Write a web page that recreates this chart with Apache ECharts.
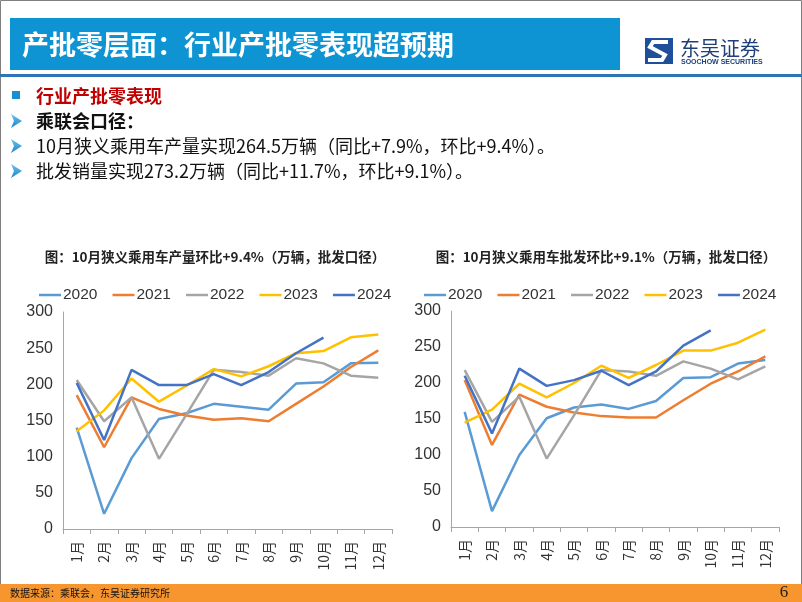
<!DOCTYPE html>
<html>
<head>
<meta charset="utf-8">
<script src="https://cdn.jsdelivr.net/npm/echarts@6/dist/echarts.min.js"></script>
<style>
html,body{margin:0;padding:0;background:#fff;}
#c{width:802px;height:602px;}
</style>
</head>
<body>
<div id="c"></div>
<script>
// ---- data ----
const months = ['1月','2月','3月','4月','5月','6月','7月','8月','9月','10月','11月','12月'];
const years = ['2020','2021','2022','2023','2024'];
const yTicks = [0,50,100,150,200,250,300];
// production (万辆)
const prod2020 = [140,21,98,152,160,173,169,165,201,203,229,230];
const prod2021 = [185,113,182,166,157,151,153,149,173,197,224,247];
const prod2022 = [206,149,182,97,158,220,217,212,236,229,212,209];
const prod2023 = [135,164,208,176,198,221,211,225,243,246,265,269];
const prod2024 = [202,123,220,199,199,214,199,217,243,264.5];
// wholesale (万辆)
const whs2020 = [160,22,100,151,166,170,164,175,207,208,227,232];
const whs2021 = [204,114,184,167,159,154,152,152,176,199,216,237];
const whs2022 = [218,146,181,95,155,218,216,210,230,220,205,223];
const whs2023 = [145,163,199,180,200,224,207,225,245,245,256,274];
const whs2024 = [210,130,220,196,204,217,197,216,252,273.2];

const prodSeries = [prod2020,prod2021,prod2022,prod2023,prod2024];
const whsSeries = [whs2020,whs2021,whs2022,whs2023,whs2024];
const colors = ['#5b9bd5','#ed7d31','#a5a5a5','#ffc000','#4472c4'];

const CJK = '"Microsoft YaHei","Noto Sans CJK SC",sans-serif';
const LAT = '"Liberation Sans",Arial,sans-serif';

const chart = echarts.init(document.getElementById('c'), null, {renderer:'canvas'});

function xAxisCfg(gi){
  return {
    type:'category', gridIndex:gi, data:months, boundaryGap:true,
    axisLine:{lineStyle:{color:'#a6a6a6',width:1}},
    axisTick:{show:true,length:5,lineStyle:{color:'#a6a6a6'}},
    axisLabel:{rotate:90,margin:12,fontSize:14,color:'#333',fontFamily:CJK,interval:0}
  };
}
function yAxisCfg(gi){
  return {
    type:'value', gridIndex:gi, min:yTicks[0], max:yTicks[yTicks.length-1], interval:50,
    axisLine:{show:true,lineStyle:{color:'#a6a6a6',width:1}},
    axisTick:{show:false},
    splitLine:{show:false},
    axisLabel:{fontSize:16,color:'#333',fontFamily:LAT,margin:10}
  };
}
const series = [];
years.forEach((y,i)=>{
  series.push({name:y,type:'line',xAxisIndex:0,yAxisIndex:0,data:prodSeries[i],
    symbol:'none',lineStyle:{width:2.5,color:colors[i]},itemStyle:{color:colors[i]},silent:true});
});
years.forEach((y,i)=>{
  series.push({name:y,type:'line',xAxisIndex:1,yAxisIndex:1,data:whsSeries[i],
    symbol:'none',lineStyle:{width:2.5,color:colors[i]},itemStyle:{color:colors[i]},silent:true});
});

function legendCfg(left){
  return {
    left:left, top:282, data:years, icon:'rect', itemWidth:22, itemHeight:2.5, itemGap:15,
    textStyle:{fontSize:15.5,color:'#333',fontFamily:LAT,padding:[0,0,0,-3]},
    selectedMode:false
  };
}

const bodyText = [
  {t:'乘联会口径：', y:121, bold:true},
  {t:'10月狭义乘用车产量实现264.5万辆（同比+7.9%，环比+9.4%）。', y:146, bold:false},
  {t:'批发销量实现273.2万辆（同比+11.7%，环比+9.1%）。', y:171, bold:false}
];

const graphics = [
  // slide border
  {type:'rect',shape:{x:0.5,y:0.5,width:801,height:601},style:{fill:'none',stroke:'#7f7f7f',lineWidth:1},z:-1},
  // title bar
  {type:'rect',shape:{x:10,y:18,width:610,height:52},style:{fill:'#0f94d3'}},
  {type:'text',style:{x:22,y:45,text:'产批零层面：行业产批零表现超预期',fill:'#fff',font:'bold 27px '+CJK,textVerticalAlign:'middle'}},
  // blue rule
  {type:'rect',shape:{x:0,y:74,width:802,height:3},style:{fill:'#2e75b6'}},
  // logo
  {type:'rect',shape:{x:645,y:38,width:28,height:26},style:{fill:'#1f4e9a'}},
  {type:'polyline',shape:{points:[[668,42],[653,42],[650,47],[665,55],[662,60],[648,60]]},style:{stroke:'#fff',lineWidth:4,fill:'none'}},
  {type:'text',style:{x:680,y:48,text:'东吴证券',fill:'#1f3f7a',font:'20px '+CJK,textVerticalAlign:'middle'}},
  {type:'text',style:{x:681,y:62,text:'SOOCHOW SECURITIES',fill:'#1f3f7a',font:'bold 7px '+LAT,textVerticalAlign:'middle'}},
  // section bullet
  {type:'rect',shape:{x:12,y:91,width:8,height:8},style:{fill:'#1a8fd0'}},
  {type:'text',style:{x:36,y:96,text:'行业产批零表现',fill:'#c00000',font:'bold 18px '+CJK,textVerticalAlign:'middle'}},
  // footer
  {type:'rect',shape:{x:0,y:584,width:802,height:18},style:{fill:'#f7962e'}},
  {type:'text',style:{x:10,y:593,text:'数据来源：乘联会，东吴证券研究所',fill:'#111',font:'10px '+CJK,textVerticalAlign:'middle'}},
  {type:'text',style:{x:784,y:593,text:'6',fill:'#222',font:'17px "Liberation Serif","DejaVu Serif",serif',textAlign:'center',textVerticalAlign:'middle'}}
];
bodyText.forEach(b=>{
  const y=b.y;
  graphics.push({type:'polygon',shape:{points:[[11,y-7],[22,y],[11,y+7],[14,y]]},
    style:{fill:new echarts.graphic.LinearGradient(0,0,0,1,[{offset:0,color:'#6cc3ee'},{offset:1,color:'#1f84c8'}])}});
  graphics.push({type:'text',style:{x:36,y:y,text:b.t,fill:'#111',font:(b.bold?'bold ':'')+'18px '+CJK,textVerticalAlign:'middle'}});
});

const option = {
  animation:false,
  backgroundColor:'#fff',
  color:colors,
  title:[
    {text:'图：10月狭义乘用车产量环比+9.4%（万辆，批发口径）',left:210,textAlign:'center',top:245,
     textStyle:{fontSize:13.5,fontWeight:'bold',color:'#222',fontFamily:CJK}},
    {text:'图：10月狭义乘用车批发环比+9.1%（万辆，批发口径）',left:601,textAlign:'center',top:245,
     textStyle:{fontSize:13.5,fontWeight:'bold',color:'#222',fontFamily:CJK}}
  ],
  legend:[legendCfg(34),legendCfg(419)],
  grid:[
    {left:63,top:312,width:329,height:217,containLabel:false},
    {left:451,top:311,width:328,height:216,containLabel:false}
  ],
  xAxis:[xAxisCfg(0),xAxisCfg(1)],
  yAxis:[yAxisCfg(0),yAxisCfg(1)],
  series:series,
  graphic:graphics
};
chart.setOption(option);
</script>
</body>
</html>
